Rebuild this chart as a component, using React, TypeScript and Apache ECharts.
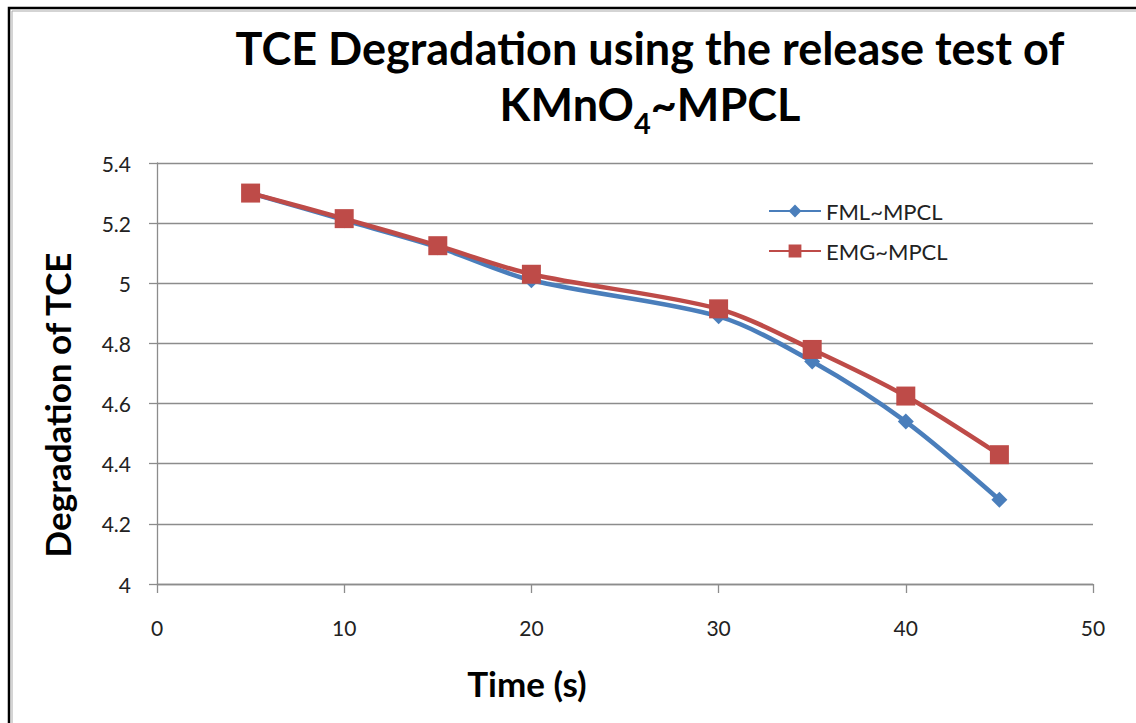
import React, { useEffect, useRef } from "react";
import * as echarts from "echarts";

const timeValues = [5, 10, 15, 20, 30, 35, 40, 45];
const fmlValues = [5.3, 5.21, 5.12, 5.01, 4.89, 4.74, 4.54, 4.28];
const emgValues = [5.3, 5.215, 5.125, 5.03, 4.915, 4.78, 4.625, 4.43];
const seriesNames = ["FML~MPCL", "EMG~MPCL"];
const titleLine1 = "TCE Degradation using the release test of";
const titleLine2Parts = ["KMnO", "4", "~MPCL"];
const xAxisTitle = "Time (s)";
const yAxisTitle = "Degradation of TCE";

const FONT = "Lato, Carlito, 'Open Sans', sans-serif";
const TITLE_SIZE = 45;
const SUB_SIZE = 29;

function measure(text: string, size: number): number {
  const c = document.createElement("canvas");
  const ctx = c.getContext("2d");
  if (!ctx) return text.length * size * 0.55;
  ctx.font = `bold ${size}px ${FONT}`;
  return ctx.measureText(text).width;
}

export default function App() {
  const ref = useRef<HTMLDivElement>(null);
  useEffect(() => {
    if (!ref.current) return;
    const chart = echarts.init(ref.current, undefined, { renderer: "svg" });
    const fml = timeValues.map((t, i) => [t, fmlValues[i]]);
    const emg = timeValues.map((t, i) => [t, emgValues[i]]);

    const wA = measure(titleLine2Parts[0], TITLE_SIZE);
    const wS = measure(titleLine2Parts[1], SUB_SIZE);
    const wB = measure(titleLine2Parts[2], TITLE_SIZE);
    const startX = 650 - (wA + wS + wB) / 2;

    chart.setOption({
      animation: false,
      backgroundColor: "#ffffff",
      grid: { left: 157, top: 163, right: 43, bottom: 139, containLabel: false },
      legend: {
        orient: "vertical",
        left: 763,
        top: 195,
        itemWidth: 52,
        itemHeight: 16,
        itemGap: 18,
        textStyle: { fontFamily: FONT, fontSize: 22, color: "#222" },
        data: seriesNames,
      },
      xAxis: {
        type: "value",
        min: 0,
        max: 50,
        interval: 10,
        axisLine: { show: true, lineStyle: { color: "#8c8c8c", width: 1.3 } },
        axisTick: { show: true, length: 9, lineStyle: { color: "#8c8c8c", width: 1.3 } },
        axisLabel: { fontFamily: FONT, fontSize: 21, color: "#222", margin: 33 },
        splitLine: { show: false },
      },
      yAxis: {
        type: "value",
        min: 4,
        max: 5.4,
        interval: 0.2,
        axisLine: { show: true, lineStyle: { color: "#8c8c8c", width: 1.3 } },
        axisTick: { show: true, length: 8, lineStyle: { color: "#8c8c8c", width: 1.3 } },
        axisLabel: {
          fontFamily: FONT,
          fontSize: 21,
          color: "#222",
          margin: 26,
          formatter: (v: number) => String(Math.round(v * 10) / 10),
        },
        splitLine: { show: true, lineStyle: { color: "#8c8c8c", width: 1.3 } },
      },
      series: [
        {
          name: seriesNames[0],
          type: "line",
          data: fml,
          smooth: 0.3,
          symbol: "diamond",
          symbolSize: 16,
          lineStyle: { color: "#4a7ebb", width: 4.5 },
          itemStyle: { color: "#4a7ebb" },
          z: 2,
        },
        {
          name: seriesNames[1],
          type: "line",
          data: emg,
          smooth: 0.3,
          symbol: "rect",
          symbolSize: 19,
          lineStyle: { color: "#be4b48", width: 4.5 },
          itemStyle: { color: "#be4b48" },
          z: 3,
        },
      ],
      graphic: [
        {
          type: "rect",
          shape: { x: 9, y: 8, width: 1300, height: 900 },
          style: { fill: "none", stroke: "#000", lineWidth: 2.5 },
          silent: true,
        },
        {
          type: "polyline",
          shape: { points: [[12, 900], [12, 11], [1300, 11]] },
          style: { fill: "none", stroke: "#aaa", lineWidth: 1 },
          silent: true,
        },
        {
          type: "text",
          x: 650,
          y: 48,
          style: {
            text: titleLine1,
            fontFamily: FONT,
            fontWeight: "bold",
            fontSize: TITLE_SIZE,
            fill: "#000",
            align: "center",
            verticalAlign: "middle",
          },
        },
        {
          type: "text",
          x: startX,
          y: 104,
          style: {
            text: titleLine2Parts[0],
            fontFamily: FONT,
            fontWeight: "bold",
            fontSize: TITLE_SIZE,
            fill: "#000",
            align: "left",
            verticalAlign: "middle",
          },
        },
        {
          type: "text",
          x: startX + wA,
          y: 122,
          style: {
            text: titleLine2Parts[1],
            fontFamily: FONT,
            fontWeight: "bold",
            fontSize: SUB_SIZE,
            fill: "#000",
            align: "left",
            verticalAlign: "middle",
          },
        },
        {
          type: "text",
          x: startX + wA + wS,
          y: 104,
          style: {
            text: titleLine2Parts[2],
            fontFamily: FONT,
            fontWeight: "bold",
            fontSize: TITLE_SIZE,
            fill: "#000",
            align: "left",
            verticalAlign: "middle",
          },
        },
        {
          type: "text",
          x: 57,
          y: 405,
          rotation: Math.PI / 2,
          style: {
            text: yAxisTitle,
            fontFamily: FONT,
            fontWeight: "bold",
            fontSize: 35,
            fill: "#000",
            align: "center",
            verticalAlign: "middle",
          },
        },
        {
          type: "text",
          x: 527,
          y: 683,
          style: {
            text: xAxisTitle,
            fontFamily: FONT,
            fontWeight: "bold",
            fontSize: 35,
            fill: "#000",
            align: "center",
            verticalAlign: "middle",
          },
        },
      ],
    });
    return () => chart.dispose();
  }, []);
  return (
    <div
      ref={ref}
      style={{ position: "fixed", left: 0, top: 0, width: 1136, height: 723 }}
    />
  );
}
